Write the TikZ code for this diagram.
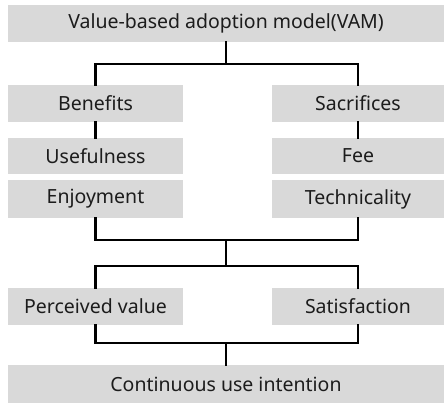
\documentclass[tikz,border=0pt]{standalone}
\usepackage{fontspec}
\setmainfont{Noto Sans}
\begin{document}
\begin{tikzpicture}[x=1pt,y=-1pt,
  box/.style={rectangle, fill=boxgray, draw=none, inner sep=0pt,
    text=textdark, font=\fontsize{19.5}{22}\selectfont, minimum height=37pt},
  conn/.style={draw=black, line width=2.6pt, line cap=rect}]
\definecolor{boxgray}{HTML}{D9D9D9}
\definecolor{textdark}{HTML}{1C1C1C}
\useasboundingbox (0,0) rectangle (444,404);

% boxes
\node[box, minimum width=436pt] (vam) at (226,23.5) {Value-based adoption model(VAM)};
\node[box, minimum width=175pt] (ben) at (95.5,103.5) {Benefits};
\node[box, minimum width=172pt] (sac) at (358,103.5) {Sacrifices};
\node[box, minimum width=175pt, minimum height=36pt] (use) at (95.5,156) {Usefulness};
\node[box, minimum width=172pt, minimum height=36pt] (fee) at (358,156) {Fee};
\node[box, minimum width=175pt, minimum height=38pt] (enj) at (95.5,199) {Enjoyment};
\node[box, minimum width=172pt, minimum height=38pt] (tec) at (358,199) {Technicality};
\node[box, minimum width=175pt] (pv) at (95.5,306.5) {Perceived value};
\node[box, minimum width=172pt] (sat) at (358,306.5) {Satisfaction};
\node[box, minimum width=436pt, minimum height=38pt] (ciu) at (226,384) {Continuous use intention};

% junction points of the brackets
\coordinate (j1) at (226,64);
\coordinate (j2) at (226,240);
\coordinate (j3) at (226,266);
\coordinate (j4) at (226,343);

% VAM splits into benefits and sacrifices
\draw[conn] (vam.south) -- (j1);
\draw[conn] (ben.north) |- (j1) -| (sac.north);
\draw[conn] (ben.south) -- (use.north);
\draw[conn] (sac.south) -- (fee.north);

% both sides join, then split into value and satisfaction
\draw[conn] (enj.south) |- (j2) -| (tec.south);
\draw[conn] (j2) -- (j3);
\draw[conn] (pv.north) |- (j3) -| (sat.north);

% value and satisfaction lead to continued use
\draw[conn] (pv.south) |- (j4) -| (sat.south);
\draw[conn] (j4) -- (ciu.north);
\end{tikzpicture}
\end{document}
